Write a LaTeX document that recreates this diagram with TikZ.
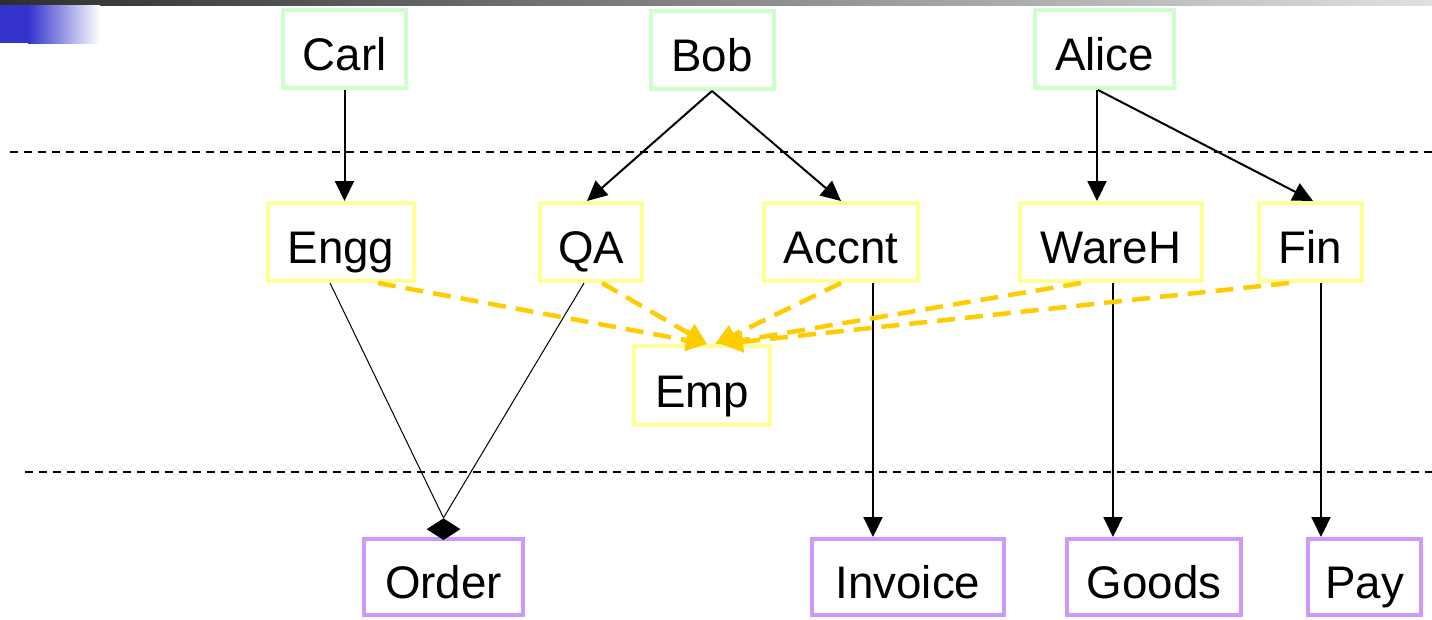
\documentclass[tikz,border=0pt]{standalone}
\usepackage{fontspec}
\setmainfont{Liberation Sans}
\usetikzlibrary{positioning, shapes.geometric, arrows.meta}

\definecolor{actorgreen}{HTML}{CCFFCC}
\definecolor{deptyellow}{HTML}{FFFF99}
\definecolor{itempurple}{HTML}{CC99FF}
\definecolor{linkgold}{HTML}{FFCC00}
\definecolor{slideblue}{HTML}{3333CC}

\tikzset{
  box/.style={rectangle, line width=0.08cm, inner sep=0pt, text height=0.86cm, text depth=0cm,
    font=\fontsize{26}{30}\selectfont},
  actor/.style={box, draw=actorgreen, minimum height=1.56cm},
  dept/.style={box, draw=deptyellow, minimum height=1.56cm},
  item/.style={box, draw=itempurple, minimum height=1.52cm},
  joint/.style={diamond, fill=black, inner sep=0pt, minimum width=0.68cm, minimum height=0.44cm},
  owns/.style={line width=0.04cm, -{Triangle[length=0.4cm, width=0.38cm]}},
  part/.style={line width=0.02cm},
  uses/.style={linkgold, line width=0.09cm, dash pattern=on 0.36cm off 0.2cm,
    -{Triangle[length=0.42cm, width=0.42cm]}},
  layer/.style={line width=0.04cm, dash pattern=on 0.16cm off 0.12cm}
}

\begin{document}
\begin{tikzpicture}[x=0.02cm, y=-0.02cm]
        \useasboundingbox (0,0) rectangle (1432,619);

        \shade[left color=black!82, right color=black!12] (0,0) rectangle (1432,5);
        \fill[slideblue] (0,5) rectangle (28,43);
        \shade[left color=slideblue, right color=white] (28,5) rectangle (100,43);

        \draw[layer] (10,152) -- (1432,152);
        \draw[layer] (25,472) -- (1432,472);

        \node[actor, minimum width=2.46cm] (carl) at (344.5,49) {Carl};
        \node[actor, minimum width=2.46cm] (bob) at (712,50) {Bob};
        \node[actor, minimum width=2.78cm] (alice) at (1104.5,49) {Alice};

        \node[dept, minimum width=2.92cm] (engg) at (341,242) {Engg};
        \node[dept, minimum width=2.04cm] (qa) at (591,242) {QA};
        \node[dept, minimum width=3.08cm] (accnt) at (841,242) {Accnt};
        \node[dept, minimum width=3.64cm] (wareh) at (1111,242) {WareH};
        \node[dept, minimum width=2.06cm] (fin) at (1310.5,242) {Fin};

        \node[dept, minimum width=2.72cm, minimum height=1.58cm] (emp) at (702,385.5) {Emp};

        \node[item, minimum width=3.18cm] (order) at (443.5,577) {Order};
        \node[item, minimum width=3.84cm] (invoice) at (908,577) {Invoice};
        \node[item, minimum width=3.48cm] (goods) at (1154,577) {Goods};
        \node[item, minimum width=2.26cm] (pay) at (1364.5,577) {Pay};

        \node[joint, above=-2pt of order] (join) {};

        \draw[owns] (carl.south) -- (carl.south |- engg.north);
        \draw[owns] (bob.south) -- ([xshift=-0.08cm]qa.north);
        \draw[owns] (bob.south) -- (accnt.north);
        \draw[owns] ([xshift=-0.15cm]alice.south) -- ([xshift=-0.15cm]alice.south |- wareh.north);
        \draw[owns] ([xshift=-0.13cm]alice.south) -- ([xshift=0.05cm]fin.north);

        \draw[part] ([xshift=-0.22cm]engg.south) -- (join.north);
        \draw[part] ([xshift=-0.14cm]qa.south) -- (join.north);

        \draw[owns] ([xshift=0.64cm]accnt.south) -- ([xshift=0.64cm]accnt.south |- invoice.north);
        \draw[owns] ([xshift=0.04cm]wareh.south) -- ([xshift=0.04cm]wareh.south |- goods.north);
        \draw[owns] ([xshift=0.21cm]fin.south) -- ([xshift=0.21cm]fin.south |- pay.north);

        \draw[uses] ([xshift=0.74cm]engg.south) -- ([xshift=0.1cm]emp.north);
        \draw[uses] ([xshift=0.22cm]qa.south) -- ([xshift=0.1cm]emp.north);
        \draw[uses] (accnt.south) -- ([xshift=0.26cm]emp.north);
        \draw[uses] ([xshift=-0.6cm]wareh.south) -- ([xshift=0.36cm]emp.north);
        \draw[uses] ([xshift=-0.43cm]fin.south) -- ([xshift=0.4cm]emp.north);
      \end{tikzpicture}
\end{document}
